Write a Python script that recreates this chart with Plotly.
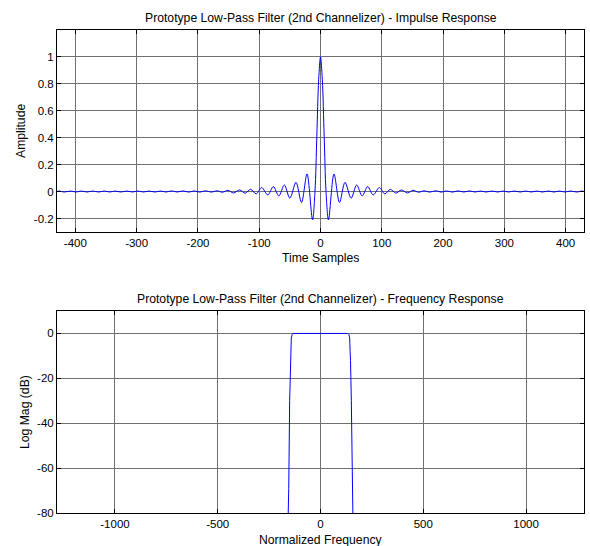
import plotly.graph_objects as go

# ---------------- Data ----------------
# Impulse response: extrema / shape points of the prototype filter
imp_x = [-430, -427, -418, -408, -399, -390, -381, -372, -362, -353, -344, -335, -326,
         -316, -307, -298, -289, -280, -270, -261, -252, -243, -234, -224, -215, -206,
         -197, -188, -178, -169, -160, -151, -142, -132, -123, -114, -105, -96, -86,
         -77, -68, -59, -50, -40, -31, -22, -13, -9, -6, -3, 0,
         3, 6, 9, 13, 22, 31, 40, 50, 59, 68, 77, 86, 96, 105, 114, 123, 132, 142,
         151, 160, 169, 178, 188, 197, 206, 215, 224, 234, 243, 252, 261, 270, 280,
         289, 298, 307, 316, 326, 335, 344, 353, 362, 372, 381, 390, 399, 408, 418,
         427, 430]
imp_y = [0.0, 0.004, -0.003, 0.004, -0.003, 0.004, -0.003, 0.004, -0.003, 0.004,
         -0.003, 0.004, -0.003, 0.004, -0.003, 0.004, -0.003, 0.004, -0.003, 0.004,
         -0.003, 0.005, -0.003, 0.005, -0.004, 0.005, -0.004, 0.006, -0.004, 0.006,
         -0.005, 0.010, -0.010, 0.012, -0.012, 0.017, -0.017, 0.030, -0.025, 0.037,
         -0.032, 0.049, -0.049, 0.069, -0.081, 0.131, -0.21, 0.0, 0.41, 0.83, 1.0,
         0.83, 0.41, 0.0, -0.21, 0.131, -0.081, 0.069, -0.049, 0.049, -0.032, 0.037,
         -0.025, 0.030, -0.017, 0.017, -0.012, 0.012, -0.010, 0.010, -0.005, 0.006,
         -0.004, 0.006, -0.004, 0.005, -0.004, 0.005, -0.003, 0.005, -0.003, 0.004,
         -0.003, 0.004, -0.003, 0.004, -0.003, 0.004, -0.003, 0.004, -0.003, 0.004,
         -0.003, 0.004, -0.003, 0.004, -0.003, 0.004, -0.003, 0.004, 0.0]

# Frequency response (dB)
freq_x = [-158, -154.5, -150, -146, -144, -142, -138, -133, 0,
          133, 138, 142, 144, 146, 150, 154.5, 158]
freq_db = [-84, -69, -30, -12, -8, -2, -0.5, 0, 0,
           0, -0.5, -2, -8, -12, -30, -69, -84]

top_xticks = [-400, -300, -200, -100, 0, 100, 200, 300, 400]
top_yticks = [-0.2, 0, 0.2, 0.4, 0.6, 0.8, 1]
bot_xticks = [-1000, -500, 0, 500, 1000]
bot_yticks = [-80, -60, -40, -20, 0]

top_title = "Prototype Low-Pass Filter (2nd Channelizer) - Impulse Response"
bot_title = "Prototype Low-Pass Filter (2nd Channelizer) - Frequency Response"


def lab(v):
    return "%g" % v


FONT = "Liberation Sans, Arial, sans-serif"
FS = 11.5      # tick labels
FT = 12.2      # titles and axis labels

fig = go.Figure()
fig.add_trace(go.Scatter(x=imp_x, y=imp_y, mode="lines",
                         line=dict(color="#0000ff", width=1, shape="spline", smoothing=0.9),
                         xaxis="x", yaxis="y", showlegend=False, hoverinfo="skip"))
fig.add_trace(go.Scatter(x=freq_x, y=freq_db, mode="lines", line=dict(color="#0000ff", width=1),
                         xaxis="x2", yaxis="y2", showlegend=False, hoverinfo="skip"))

top_dom = [0.5818, 1.0]
bot_dom = [0.0, 0.4182]

common = dict(showline=True, linecolor="black", linewidth=1, mirror="ticks", ticks="inside", ticklen=4,
              tickcolor="black", showgrid=True, gridcolor="#707070", gridwidth=1, zeroline=False,
              automargin=False, tickfont=dict(family=FONT, size=FS, color="black"))


def ann(text, x, y, xanchor="center", yanchor="middle", angle=0, xshift=0, yshift=0):
    return dict(text=text, xref="paper", yref="paper", x=x, y=y, xanchor=xanchor, yanchor=yanchor,
                textangle=angle, xshift=xshift, yshift=yshift, showarrow=False,
                font=dict(family=FONT, size=FT, color="black"))


fig.update_layout(
    width=590, height=546,
    margin=dict(l=57, r=6, t=30, b=33),
    paper_bgcolor="white", plot_bgcolor="white",
    font=dict(family=FONT, size=FS, color="black"),
    xaxis=dict(domain=[0, 1], anchor="y", range=[-430, 430], tickvals=top_xticks,
               ticktext=[lab(v) for v in top_xticks], **common),
    yaxis=dict(domain=top_dom, anchor="x", range=[-0.3, 1.2], tickvals=top_yticks,
               ticktext=[lab(v) for v in top_yticks], **common),
    xaxis2=dict(domain=[0, 1], anchor="y2", range=[-1282, 1282], tickvals=bot_xticks,
                ticktext=[lab(v) for v in bot_xticks], **common),
    yaxis2=dict(domain=bot_dom, anchor="x2", range=[-80, 10], tickvals=bot_yticks,
                ticktext=[lab(v) for v in bot_yticks], **common),
    annotations=[
        ann(top_title, 0.5, top_dom[1], yanchor="bottom", yshift=3),
        ann(bot_title, 0.5, bot_dom[1], yanchor="bottom", yshift=3),
        ann("Time Samples", 0.5, top_dom[0], yanchor="middle", yshift=-26),
        ann("Normalized Frequency", 0.5, bot_dom[0], yanchor="middle", yshift=-27),
        ann("Amplitude", 0, (top_dom[0] + top_dom[1]) / 2, angle=-90, xshift=-36),
        ann("Log Mag (dB)", 0, (bot_dom[0] + bot_dom[1]) / 2, angle=-90, xshift=-32),
    ],
)

fig.write_html("out.html", config={"displayModeBar": False},
               post_script="document.body.style.margin='0';document.body.style.overflow='hidden';")
